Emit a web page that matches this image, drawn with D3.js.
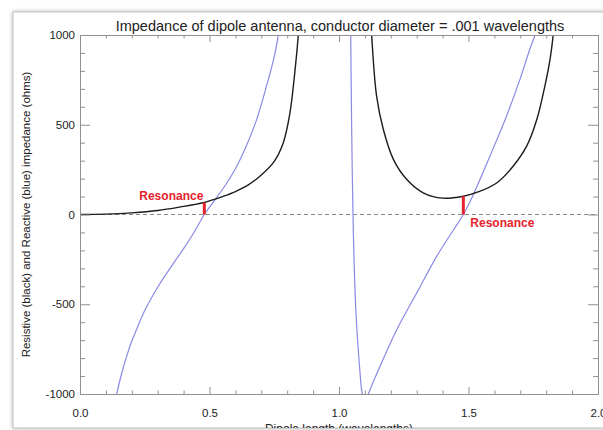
<!DOCTYPE html>
<html>
<head>
<meta charset="utf-8">
<script src="https://cdn.jsdelivr.net/npm/d3@7"></script>
<style>
  html, body { margin: 0; padding: 0; background: #fff; }
  svg { display: block; font-family: "Liberation Sans", Arial, sans-serif; }
</style>
</head>
<body>
<div id="chartarea"></div>
<script>
// resistive part (black), both branches either side of the full-wave pole
const lenR1 = [0, 0.1, 0.2, 0.3, 0.4, 0.45, 0.48, 0.5, 0.55, 0.6, 0.65, 0.7, 0.75, 0.785, 0.81, 0.83, 0.843, 0.855];
const resR1 = [0, 2, 9, 22, 45, 58, 67, 76, 100, 128, 165, 220, 296, 400, 560, 800, 1000, 1250];
const lenR2 = [1.118, 1.126, 1.145, 1.171, 1.21, 1.261, 1.325, 1.4, 1.48, 1.54, 1.61, 1.673, 1.725, 1.764, 1.795, 1.815, 1.827, 1.838];
const resR2 = [1200, 1000, 661, 475, 307, 196, 121, 91, 102, 127, 177, 270, 382, 531, 717, 866, 1000, 1180];

// reactive part (blue)
const lenX1 = [0.13, 0.1417, 0.16, 0.18, 0.2, 0.22, 0.25, 0.3, 0.35, 0.4, 0.44, 0.48, 0.52, 0.56, 0.6, 0.64, 0.68, 0.72, 0.75, 0.766, 0.78];
const reaX1 = [-1090, -1000, -890, -790, -705, -635, -535, -405, -295, -190, -100, 0, 80, 160, 255, 375, 520, 715, 880, 1000, 1110];
const lenX2 = [1.044, 1.0452, 1.049, 1.0552, 1.0656, 1.0784, 1.09, 1.101, 1.113, 1.158, 1.223, 1.3, 1.377, 1.441, 1.48, 1.519, 1.583, 1.647, 1.699, 1.737, 1.757, 1.77];
const reaX2 = [1150, 1000, 471, -86, -551, -830, -1000, -1045, -1000, -847, -642, -437, -233, -88, 0, 112, 326, 549, 754, 922, 1000, 1070];

// resonance markers
const resonanceLen = [0.48, 1.48];
const resonanceR = [67, 102];

const xTicks = [0, 0.5, 1.0, 1.5, 2.0];
const yTicks = [-1000, -500, 0, 500, 1000];

const margin = { top: 35, right: 5, bottom: 36, left: 80 };
const W = 603, H = 430;
const width = W - margin.left - margin.right;
const height = H - margin.top - margin.bottom;

const axisColor = '#8f8f8f';
const blue = '#8a8ae4';
const red = '#e6232c';

const svg = d3.select('#chartarea')
    .append('svg')
        .attr('width', W)
        .attr('height', H);

const defs = svg.append('defs');
const shadow = defs.append('filter')
    .attr('id', 'shadow')
    .attr('x', '-10%').attr('y', '-10%')
    .attr('width', '120%').attr('height', '120%');
shadow.append('feDropShadow')
    .attr('dx', 0).attr('dy', 0)
    .attr('stdDeviation', 2)
    .attr('flood-color', '#777')
    .attr('flood-opacity', 0.55);

defs.append('clipPath').attr('id', 'frameclip')
    .append('rect').attr('x', 13).attr('y', 12).attr('width', 700).attr('height', 416);
defs.append('clipPath').attr('id', 'plotclip')
    .append('rect').attr('x', 0).attr('y', 0).attr('width', width).attr('height', height);

// window frame
svg.append('rect')
    .attr('x', 13).attr('y', 12)
    .attr('width', 700).attr('height', 416)
    .attr('fill', '#fff')
    .attr('stroke', '#c2c2c2')
    .attr('filter', 'url(#shadow)');

const page = svg.append('g').attr('clip-path', 'url(#frameclip)');

const group = page.append('g')
    .attr('transform', `translate(${margin.left}, ${margin.top})`);

const x = d3.scaleLinear().domain([0, 2]).range([0, width]);
const y = d3.scaleLinear().domain([-1000, 1000]).range([height, 0]);

//title
page.append('text')
    .attr('x', margin.left + width / 2 + 1)
    .attr('y', 31)
    .attr('font-size', '14.5px')
    .attr('fill', '#222')
    .attr('text-anchor', 'middle')
    .text('Impedance of dipole antenna, conductor diameter = .001 wavelengths');

//x label
group.append('text')
    .attr('x', width / 2)
    .attr('y', height + 39)
    .attr('font-size', '12px')
    .attr('fill', '#222')
    .attr('text-anchor', 'middle')
    .text('Dipole length (wavelengths)');

//y label
group.append('text')
    .attr('y', -50)
    .attr('x', -(height / 2))
    .attr('font-size', '11.5px')
    .attr('fill', '#222')
    .attr('text-anchor', 'middle')
    .attr('transform', 'rotate(-90)')
    .text('Resistive (black) and Reactive (blue) impedance (ohms)');

// zero line
group.append('line')
    .attr('x1', 0).attr('x2', width)
    .attr('y1', y(0)).attr('y2', y(0))
    .attr('stroke', '#8a8a8a')
    .attr('stroke-dasharray', '4,3');

// curves
const plot = group.append('g').attr('clip-path', 'url(#plotclip)');
const line = d3.line()
    .x(d => x(d[0]))
    .y(d => y(d[1]))
    .curve(d3.curveCatmullRom.alpha(0.5));

const series = [
    { len: lenX1, val: reaX1, color: blue, w: 1.2 },
    { len: lenX2, val: reaX2, color: blue, w: 1.2 },
    { len: lenR1, val: resR1, color: '#1c1c1c', w: 1.4 },
    { len: lenR2, val: resR2, color: '#1c1c1c', w: 1.4 }
];
series.forEach(s => {
    plot.append('path')
        .datum(d3.zip(s.len, s.val))
        .attr('fill', 'none')
        .attr('stroke', s.color)
        .attr('stroke-width', s.w)
        .attr('d', line);
});

// resonance markers
group.selectAll('.marker')
    .data(d3.zip(resonanceLen, resonanceR))
    .enter()
    .append('line')
    .attr('class', 'marker')
    .attr('x1', d => x(d[0])).attr('x2', d => x(d[0]))
    .attr('y1', d => y(d[1])).attr('y2', y(0))
    .attr('stroke', red)
    .attr('stroke-width', 3);

group.append('text')
    .attr('x', x(resonanceLen[0]) - 1)
    .attr('y', y(resonanceR[0]) - 2)
    .attr('text-anchor', 'end')
    .attr('font-size', '12px')
    .attr('font-weight', 'bold')
    .attr('fill', red)
    .text('Resonance');

group.append('text')
    .attr('x', x(resonanceLen[1]) + 7)
    .attr('y', y(0) + 12)
    .attr('font-size', '12px')
    .attr('font-weight', 'bold')
    .attr('fill', red)
    .text('Resonance');

// axes, ticks pointing inward on all four sides
const xMinor = x.ticks(20).filter(v => !xTicks.includes(v));
const yMinor = y.ticks(20).filter(v => !yTicks.includes(v));

group.append('g')
    .attr('transform', `translate(0, ${height})`)
    .call(d3.axisBottom(x).tickValues(xTicks).tickSize(-7).tickSizeOuter(0)
        .tickPadding(15).tickFormat(d3.format('.1f')));
group.append('g')
    .attr('transform', `translate(0, ${height})`)
    .call(d3.axisBottom(x).tickValues(xMinor).tickSize(-3.5).tickSizeOuter(0).tickFormat(''));
group.append('g')
    .call(d3.axisTop(x).tickValues(xTicks).tickSize(-7).tickSizeOuter(0).tickFormat(''));
group.append('g')
    .call(d3.axisTop(x).tickValues(xMinor).tickSize(-3.5).tickSizeOuter(0).tickFormat(''));

group.append('g')
    .call(d3.axisLeft(y).tickValues(yTicks).tickSize(-10).tickSizeOuter(0)
        .tickPadding(5).tickFormat(d => String(d)));
group.append('g')
    .call(d3.axisLeft(y).tickValues(yMinor).tickSize(-5).tickSizeOuter(0).tickFormat(''));
group.append('g')
    .attr('transform', `translate(${width}, 0)`)
    .call(d3.axisRight(y).tickValues(yTicks).tickSize(-10).tickSizeOuter(0).tickFormat(''));
group.append('g')
    .attr('transform', `translate(${width}, 0)`)
    .call(d3.axisRight(y).tickValues(yMinor).tickSize(-5).tickSizeOuter(0).tickFormat(''));

group.selectAll('.domain, .tick line').attr('stroke', axisColor);
group.selectAll('.tick text')
    .attr('font-size', '11.5px')
    .attr('font-family', '"Liberation Sans", Arial, sans-serif')
    .attr('fill', '#222');
</script>
</body>
</html>
